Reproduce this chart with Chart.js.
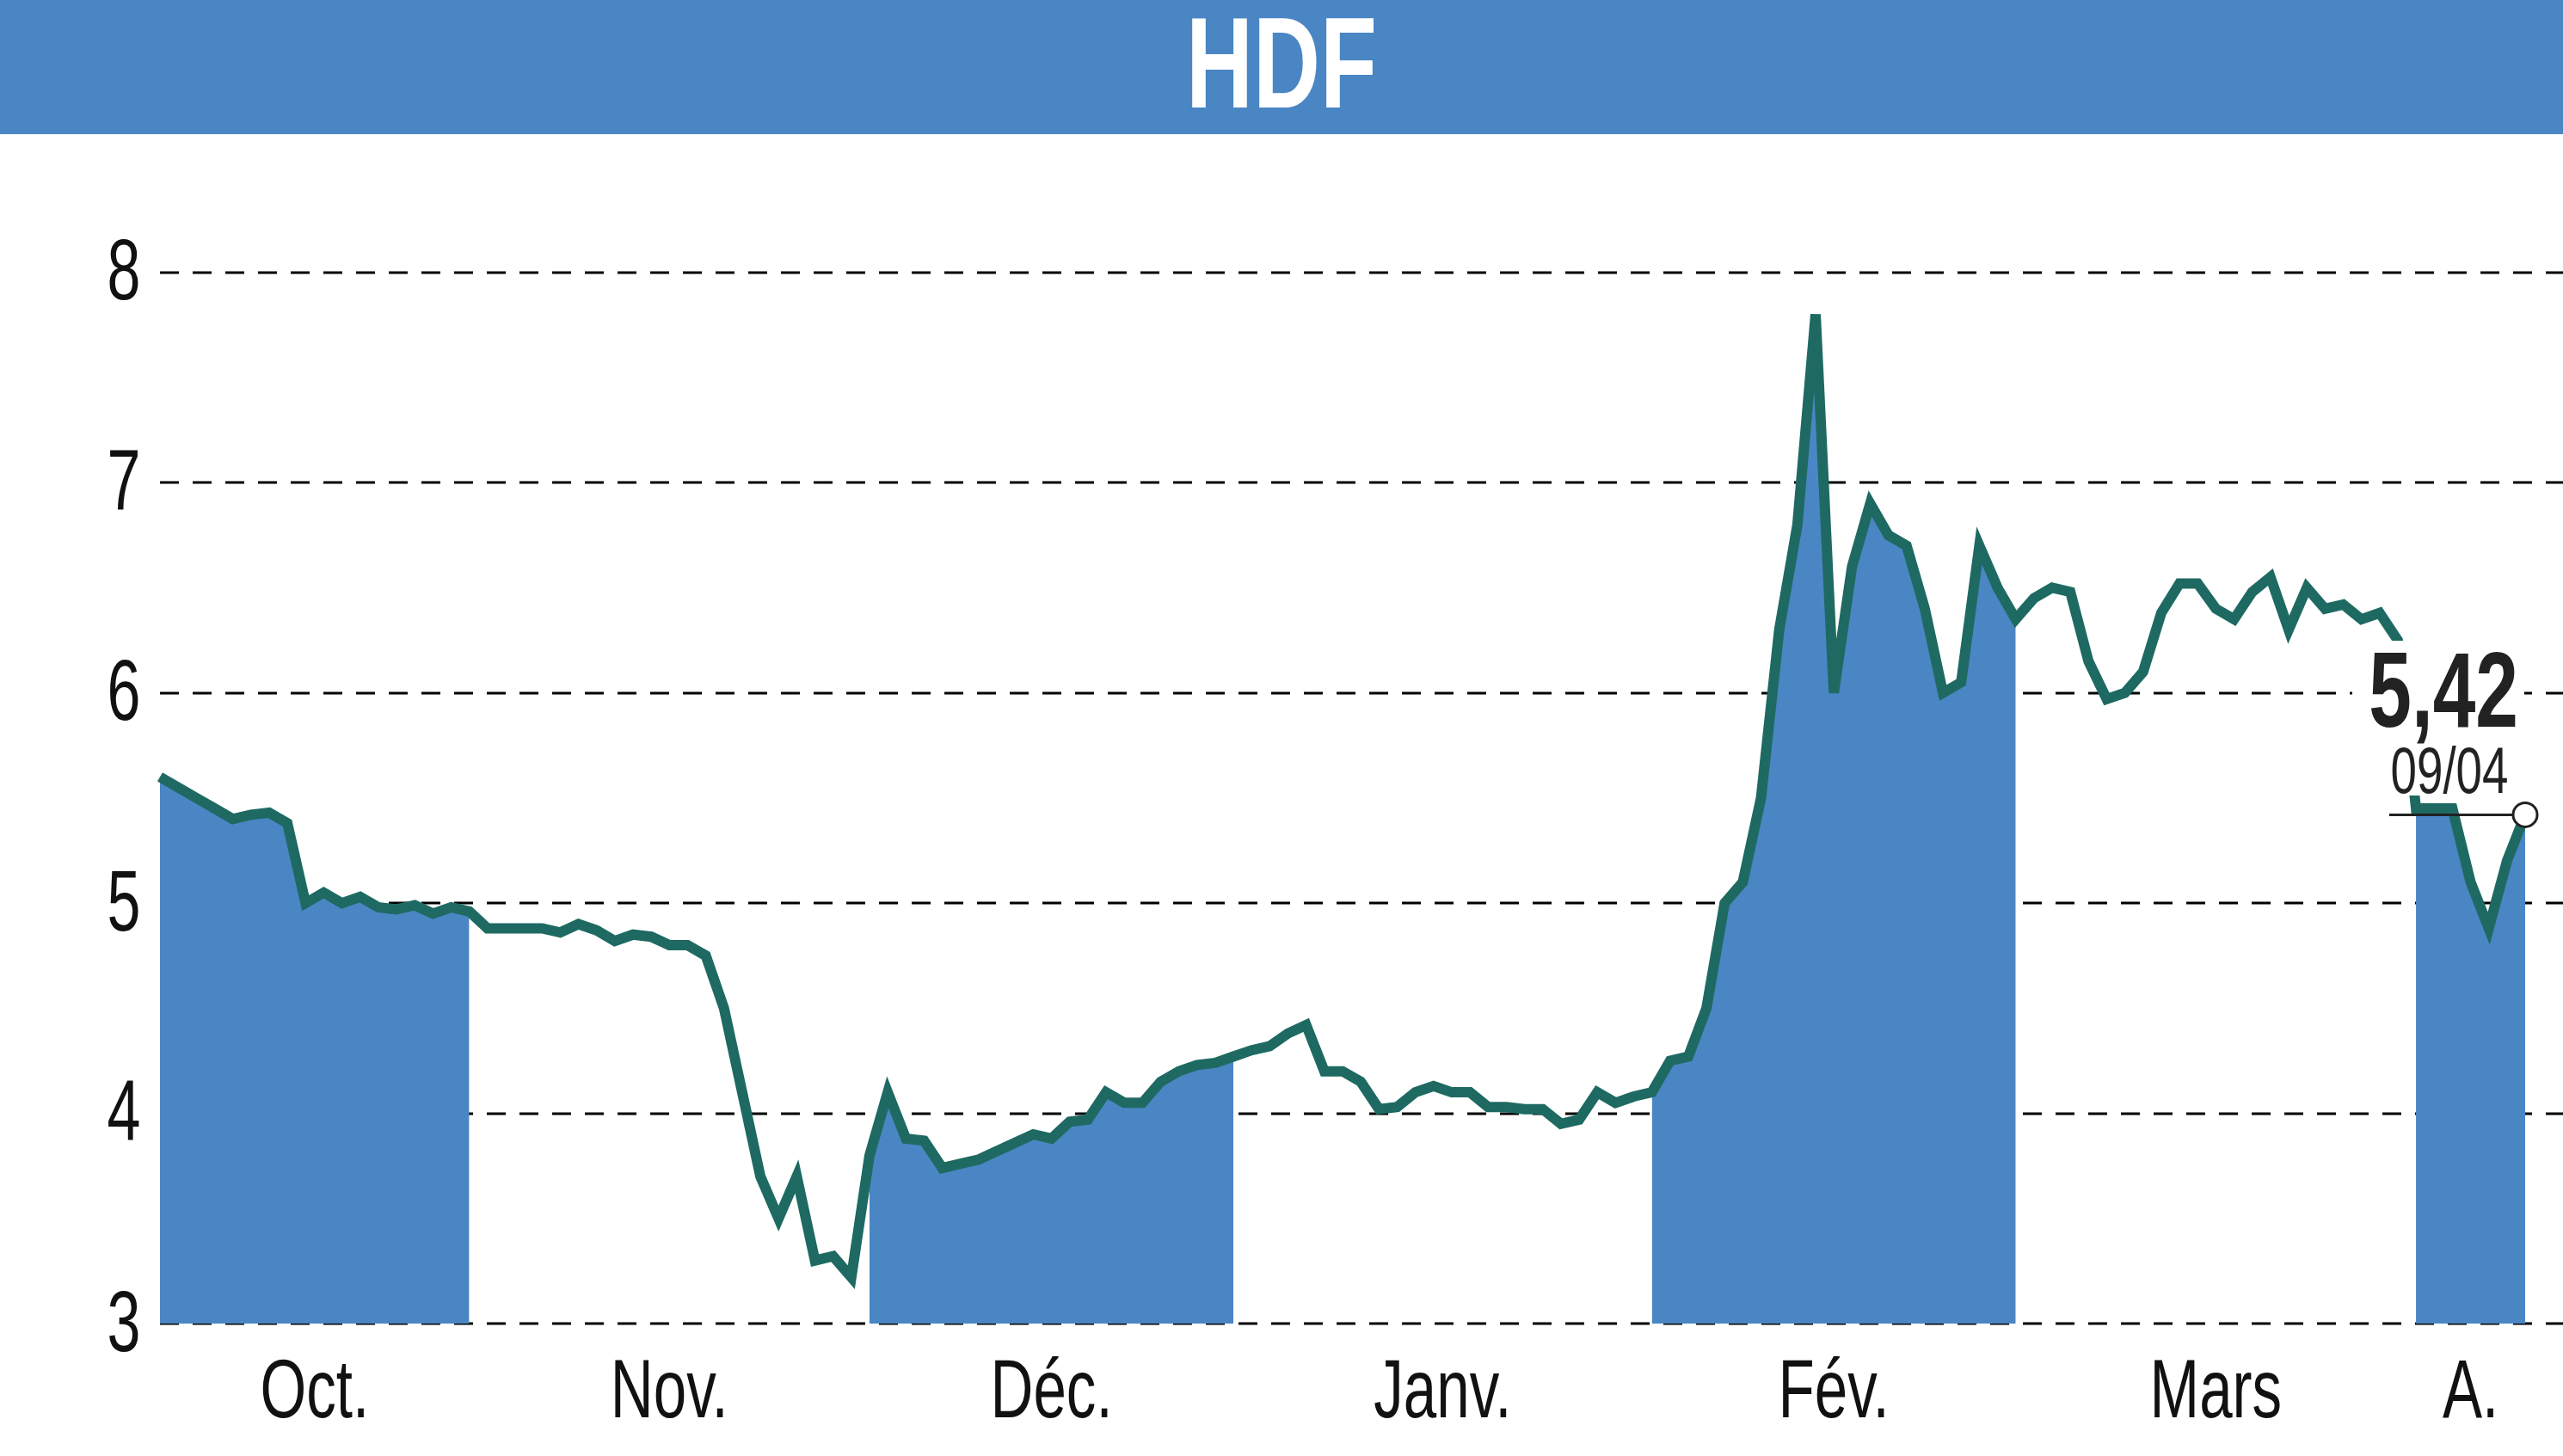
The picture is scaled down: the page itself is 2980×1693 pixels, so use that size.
<!DOCTYPE html>
<html><head><meta charset="utf-8">
<script src="https://cdn.jsdelivr.net/npm/chart.js@4/dist/chart.umd.min.js"></script>
<style>html,body{margin:0;padding:0;background:#fff}#wrap{width:2980px;height:1693px}#wrap canvas{display:block}</style>
</head><body><div id="wrap"><canvas id="c"></canvas></div>
<script>
// Daily closes, Oct -> 9 Apr
const octPrices = [5.6,5.55,5.5,5.45,5.4,5.42,5.43,5.38,5.0,5.05,5.0,5.03,4.98,4.97,4.99,4.95,4.98];
const novPrices = [4.96,4.88,4.88,4.88,4.88,4.86,4.9,4.87,4.82,4.85,4.84,4.8,4.8,4.75,4.5,4.1,3.7,3.5,3.7,3.3,3.32,3.22];
const decPrices = [3.8,4.1,3.88,3.87,3.74,3.76,3.78,3.82,3.86,3.9,3.88,3.96,3.97,4.1,4.05,4.05,4.15,4.2,4.23,4.24];
const janPrices = [4.27,4.3,4.32,4.38,4.42,4.2,4.2,4.15,4.02,4.03,4.1,4.13,4.1,4.1,4.03,4.03,4.02,4.02,3.95,3.97,4.1,4.05,4.08];
const febPrices = [4.1,4.25,4.27,4.5,5.0,5.1,5.5,6.3,6.8,7.8,6.0,6.6,6.9,6.75,6.7,6.4,6.0,6.05,6.7,6.5];
const marPrices = [6.35,6.45,6.5,6.48,6.15,5.97,6.0,6.1,6.38,6.52,6.52,6.4,6.35,6.48,6.55,6.3,6.5,6.4,6.42,6.35,6.38,6.25];
const aprPrices = [5.45,5.45,5.45,5.1,4.88,5.2,5.42];
const months = [octPrices, novPrices, decPrices, janPrices, febPrices, marPrices, aprPrices];
const monthLabels = ['Oct.', 'Nov.', 'Déc.', 'Janv.', 'Fév.', 'Mars', 'A.'];
const shadedMonths = [0, 2, 4, 6];
const yTicks = [3, 4, 5, 6, 7, 8];
const lastLabel = '5,42';
const lastDate = '09/04';
const title = 'HDF';

const prices = months.flat();
const labels = prices.map((_, i) => i);
const monthStart = [];
let k = 0;
months.forEach(m => { monthStart.push(k); k += m.length; });
// shaded band runs from a month's first day up to the next month's first day
const shaded = prices.map(() => null);
shadedMonths.forEach(mi => {
  const end = mi < months.length - 1 ? monthStart[mi + 1] : prices.length - 1;
  for (let i = monthStart[mi]; i <= end; i++) shaded[i] = prices[i];
});

const FONT = "'Liberation Sans',sans-serif";
const BLUE = '#4a86c4';

// narrow text: squeeze horizontally
function narrowText(ctx, txt, x, y, align, sx) {
  ctx.save();
  ctx.translate(x, y);
  ctx.scale(sx, 1);
  ctx.textAlign = align;
  ctx.fillText(txt, 0, 0);
  ctx.restore();
}

const decor = {
  id: 'decor',
  beforeDatasetsDraw(chart) {
    const { ctx, scales: { y } } = chart;
    ctx.save();
    ctx.strokeStyle = '#000';
    ctx.lineWidth = 3;
    ctx.setLineDash([22, 16]);
    yTicks.forEach(t => {
      const py = Math.round(y.getPixelForValue(t));
      ctx.beginPath(); ctx.moveTo(186, py); ctx.lineTo(2980, py); ctx.stroke();
    });
    ctx.restore();
  },
  afterDraw(chart) {
    const { ctx, scales: { x, y } } = chart;
    ctx.save();
    ctx.fillStyle = '#111';
    ctx.font = '100px ' + FONT;
    ctx.textBaseline = 'middle';
    yTicks.forEach(t => narrowText(ctx, String(t), 144, y.getPixelForValue(t) + 4, 'center', 0.7));
    ctx.textBaseline = 'alphabetic';
    ctx.font = '96px ' + FONT;
    months.forEach((m, mi) => {
      const a = x.getPixelForValue(monthStart[mi]);
      const b = mi < months.length - 1 ? x.getPixelForValue(monthStart[mi + 1]) : x.getPixelForValue(prices.length - 1);
      narrowText(ctx, monthLabels[mi], (a + b) / 2, 1648, 'center', 0.72);
    });
    ctx.fillStyle = BLUE;
    ctx.fillRect(0, 0, 2980, 156);
    ctx.fillStyle = '#fff';
    ctx.font = 'bold 150px ' + FONT;
    ctx.textBaseline = 'middle';
    narrowText(ctx, title, 1490, 84, 'center', 0.72);
    const lx = x.getPixelForValue(prices.length - 1);
    const ly = y.getPixelForValue(prices[prices.length - 1]);
    ctx.fillStyle = '#fff';
    ctx.fillRect(2735, 745, 200, 180);
    ctx.fillStyle = '#222';
    ctx.textBaseline = 'alphabetic';
    ctx.font = 'bold 124px ' + FONT;
    narrowText(ctx, lastLabel, 2928, 845, 'right', 0.72);
    ctx.font = '76px ' + FONT;
    narrowText(ctx, lastDate, 2848, 922, 'center', 0.72);
    ctx.strokeStyle = '#222';
    ctx.lineWidth = 3;
    ctx.beginPath(); ctx.moveTo(2778, ly); ctx.lineTo(lx, ly); ctx.stroke();
    ctx.fillStyle = '#fff';
    ctx.beginPath(); ctx.arc(lx, ly, 14, 0, Math.PI * 2); ctx.fill(); ctx.stroke();
    ctx.restore();
  }
};

new Chart(document.getElementById('c'), {
  type: 'line',
  data: {
    labels: labels,
    datasets: [
      { data: prices, borderColor: '#1e6a62', borderWidth: 12, pointRadius: 0, tension: 0, fill: false, order: 0 },
      { data: shaded, borderWidth: 0, pointRadius: 0, tension: 0, fill: 'start', backgroundColor: BLUE, spanGaps: false, order: 1 }
    ]
  },
  options: {
    responsive: true, maintainAspectRatio: false, animation: false,
    devicePixelRatio: 1,
    layout: { padding: { left: 186, right: 44, top: 170, bottom: 154 } },
    plugins: { legend: { display: false }, tooltip: { enabled: false } },
    scales: {
      x: { type: 'category', offset: false, display: false },
      y: { min: 3, max: 8.6, display: false }
    }
  },
  plugins: [decor]
});
</script>
</body></html>
